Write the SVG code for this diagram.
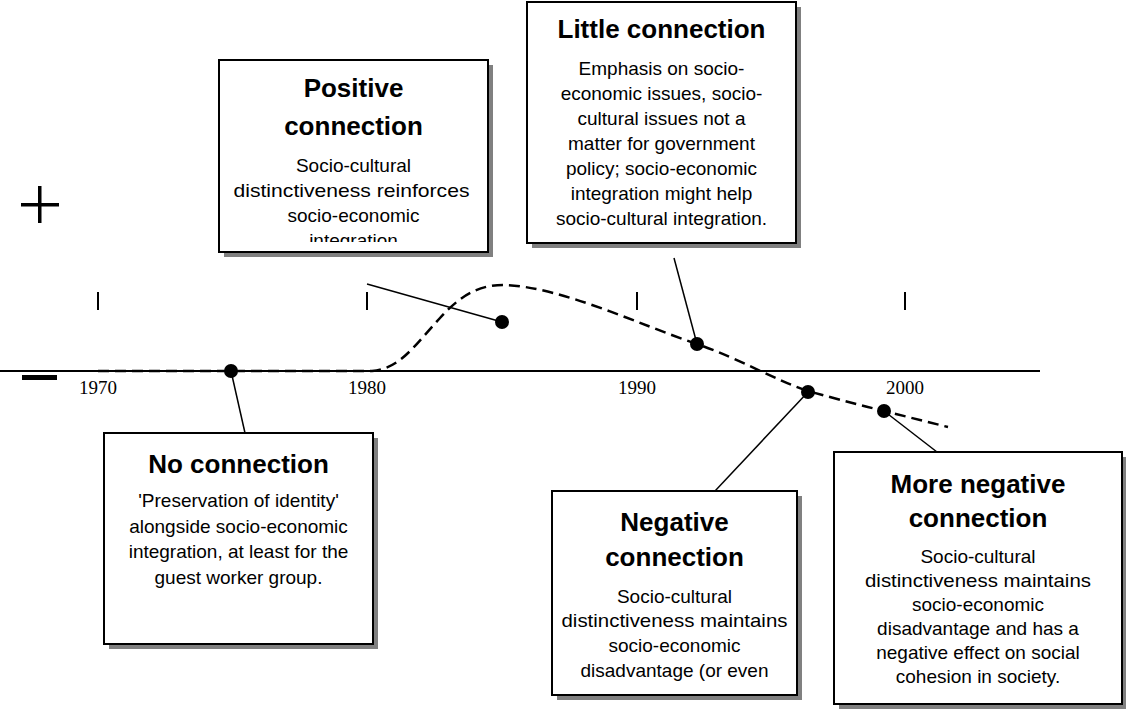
<svg xmlns="http://www.w3.org/2000/svg" width="1126" height="711" viewBox="0 0 1126 711">
<style>
.box{fill:#fff;stroke:#000;stroke-width:2}
.shadow{fill:#808080}
.title{font-family:"Liberation Sans",Arial,sans-serif;font-weight:bold;font-size:26px;text-anchor:middle;fill:#000}
.body{font-family:"Liberation Sans",Arial,sans-serif;font-size:19px;text-anchor:middle;fill:#000}
.year{font-family:"Liberation Serif","Times New Roman",serif;font-size:19px;text-anchor:middle;fill:#000}
.lead{stroke:#000;stroke-width:1.5;fill:none}
.dot{fill:#000}
.tick{stroke:#000;stroke-width:2}
</style>
<defs>
<clipPath id="clipPos"><rect x="219" y="60" width="269" height="182"/></clipPath>
</defs>
<rect width="1126" height="711" fill="#fff"/>
<g id="axes">
<line x1="0" y1="371" x2="1040" y2="371" stroke="#000" stroke-width="2"/>
<line class="tick" x1="98" y1="292" x2="98" y2="310"/>
<line class="tick" x1="367" y1="292" x2="367" y2="310"/>
<line class="tick" x1="637" y1="292" x2="637" y2="310"/>
<line class="tick" x1="905" y1="292" x2="905" y2="310"/>
<text class="year" x="98" y="394">1970</text>
<text class="year" x="367" y="394">1980</text>
<text class="year" x="637" y="394">1990</text>
<text class="year" x="905" y="394">2000</text>
<rect x="38" y="186" width="3.5" height="37" fill="#000"/>
<rect x="21" y="203" width="38" height="3.5" fill="#000"/>
<rect x="22" y="375" width="35" height="5" fill="#000"/>
</g>
<g id="curve">
<path d="M98,371 L372,371 C400,369 415,345 440,318 C460,296 478,285 503,285 C560,286 640,325 697,344 C740,359 775,380 808,391 C840,400 860,405 884,411 L948,427" fill="none" stroke="#000" stroke-width="2.5" stroke-dasharray="11 6"/>
</g>
<g id="connectors">
<line class="lead" x1="231" y1="371" x2="245" y2="433"/>
<line class="lead" x1="367" y1="284" x2="502" y2="322"/>
<line class="lead" x1="674" y1="258" x2="697" y2="344"/>
<line class="lead" x1="808" y1="392" x2="715" y2="491"/>
<line class="lead" x1="884" y1="411" x2="937" y2="452"/>
<circle class="dot" cx="231" cy="371" r="7"/>
<circle class="dot" cx="502" cy="322" r="7"/>
<circle class="dot" cx="697" cy="344" r="7"/>
<circle class="dot" cx="808" cy="392" r="7"/>
<circle class="dot" cx="884" cy="411" r="7"/>
</g>
<g id="positive">
<rect class="shadow" x="224" y="65" width="269" height="192"/>
<rect class="box" x="219" y="60" width="269" height="192"/>
<text class="title" x="353.5" y="97">Positive</text>
<text class="title" x="353.5" y="135">connection</text>
<g clip-path="url(#clipPos)">
<text class="body" x="353.5" y="172">Socio-cultural</text>
<text class="body" x="351.5" y="197" textLength="236" lengthAdjust="spacingAndGlyphs">distinctiveness reinforces</text>
<text class="body" x="353.5" y="222">socio-economic</text>
<text class="body" x="353.5" y="247">integration</text>
</g>
</g>
<g id="little">
<rect class="shadow" x="532" y="7" width="269" height="241"/>
<rect class="box" x="527" y="2" width="269" height="241"/>
<text class="title" x="661.5" y="38">Little connection</text>
<text class="body" x="661.5" y="75">Emphasis on socio-</text>
<text class="body" x="661.5" y="100">economic issues, socio-</text>
<text class="body" x="661.5" y="125">cultural issues not a</text>
<text class="body" x="661.5" y="150">matter for government</text>
<text class="body" x="661.5" y="175">policy; socio-economic</text>
<text class="body" x="661.5" y="200">integration might help</text>
<text class="body" x="661.5" y="225">socio-cultural integration.</text>
</g>
<g id="noconn">
<rect class="shadow" x="109" y="438" width="269" height="211"/>
<rect class="box" x="104" y="433" width="269" height="211"/>
<text class="title" x="238.5" y="473">No connection</text>
<text class="body" x="238.5" y="507">'Preservation of identity'</text>
<text class="body" x="238.5" y="533">alongside socio-economic</text>
<text class="body" x="238.5" y="558">integration, at least for the</text>
<text class="body" x="238.5" y="584">guest worker group.</text>
</g>
<g id="negative">
<rect class="shadow" x="557" y="496" width="245" height="204"/>
<rect class="box" x="552" y="491" width="245" height="204"/>
<text class="title" x="674.5" y="531">Negative</text>
<text class="title" x="674.5" y="566">connection</text>
<text class="body" x="674.5" y="603">Socio-cultural</text>
<text class="body" x="674.5" y="627" textLength="226" lengthAdjust="spacingAndGlyphs">distinctiveness maintains</text>
<text class="body" x="674.5" y="652">socio-economic</text>
<text class="body" x="674.5" y="677">disadvantage (or even</text>
</g>
<g id="morenegative">
<rect class="shadow" x="839" y="457" width="288" height="252"/>
<rect class="box" x="834" y="452" width="288" height="252"/>
<text class="title" x="978" y="493">More negative</text>
<text class="title" x="978" y="527">connection</text>
<text class="body" x="978" y="563">Socio-cultural</text>
<text class="body" x="978" y="587" textLength="226" lengthAdjust="spacingAndGlyphs">distinctiveness maintains</text>
<text class="body" x="978" y="611">socio-economic</text>
<text class="body" x="978" y="635">disadvantage and has a</text>
<text class="body" x="978" y="659">negative effect on social</text>
<text class="body" x="978" y="683">cohesion in society.</text>
</g>
</svg>
